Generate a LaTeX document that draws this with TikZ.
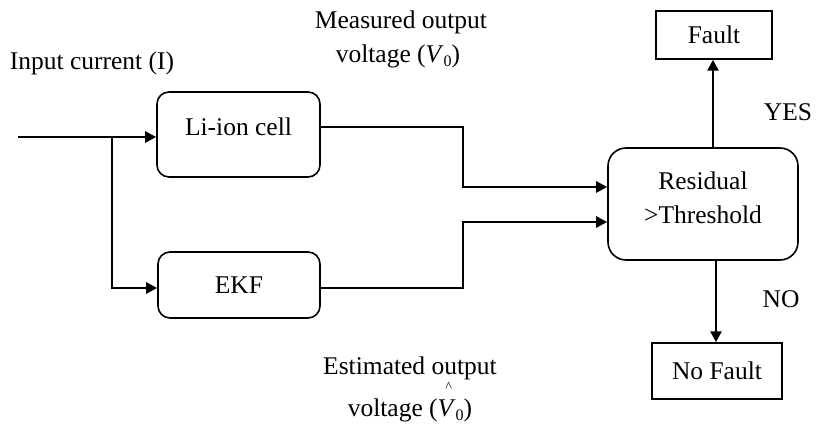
\documentclass[tikz,border=0pt]{standalone}
\usepackage{fontspec}
\setmainfont{Liberation Serif}
\usetikzlibrary{arrows.meta}
\begin{document}
\begin{tikzpicture}[x=1pt,y=-1pt,
  font=\fontsize{25.5}{30}\selectfont,
  rbox/.style={draw,line width=1.6pt,rounded corners=12pt,inner sep=0pt},
  sbox/.style={draw,line width=1.5pt,inner sep=0pt},
  conn/.style={line width=2.6pt,-{Triangle[length=11pt,width=11pt]}},
  lbl/.style={inner sep=0pt,anchor=center}]
\useasboundingbox (0,0) rectangle (817,425);
% boxes
\node[rbox,minimum width=163pt,minimum height=85pt] (li) at (238.5,134.5) {};
\node[lbl] (litext) at (238.5,127) {Li-ion cell};
\node[rbox,minimum width=162pt,minimum height=66pt] (ekf) at (239,285) {EKF};
\node[rbox,rounded corners=18pt,minimum width=190pt,minimum height=112pt,align=center] (res) at (703,204) {};
\node[lbl] (restext1) at (703,181) {Residual};
\node[lbl] (restext2) at (703,215) {>Threshold};
\node[sbox,minimum width=116pt,minimum height=48pt] (fault) at (714,35) {Fault};
\node[sbox,minimum width=130pt,minimum height=56pt] (nofault) at (717,371) {No Fault};
% labels
\node[lbl] (inlbl) at (92,63) {Input current (I)};
\node[lbl] (meas1) at (401,22) {Measured output};
\node[lbl] (meas2) at (398,56) {voltage (\textit{V}\raisebox{-0.35ex}{\fontsize{16}{18}\selectfont 0})};
\node[lbl] (est1) at (410,368) {Estimated output};
\node[lbl] (est2) at (410,402) {voltage (\makebox[0pt][l]{\hspace{0.3em}\raisebox{1.0em}{\fontsize{14}{16}\selectfont\^{}}}\textit{V}\raisebox{-0.35ex}{\fontsize{16}{18}\selectfont 0})};
\node[lbl] (yes) at (788,112) {YES};
\node[lbl] (no) at (781,299) {NO};
% connector points
\coordinate (start) at (18,137);
\coordinate (split) at (112,137);
% connectors
\draw[conn] (start) -- (li.west |- split);
\draw[conn] (split) |- (ekf.west |- 0,288);
\draw[conn] (li.east |- 0,127) -- (463,127) |- (res.west |- 0,187);
\draw[conn] (ekf.east |- 0,288) -- (463,288) |- (res.west |- 0,222);
\draw[conn] (res.north -| 713,0) -- (fault.south -| 713,0);
\draw[conn] (res.south -| 716,0) -- (nofault.north -| 716,0);
\end{tikzpicture}
\end{document}
